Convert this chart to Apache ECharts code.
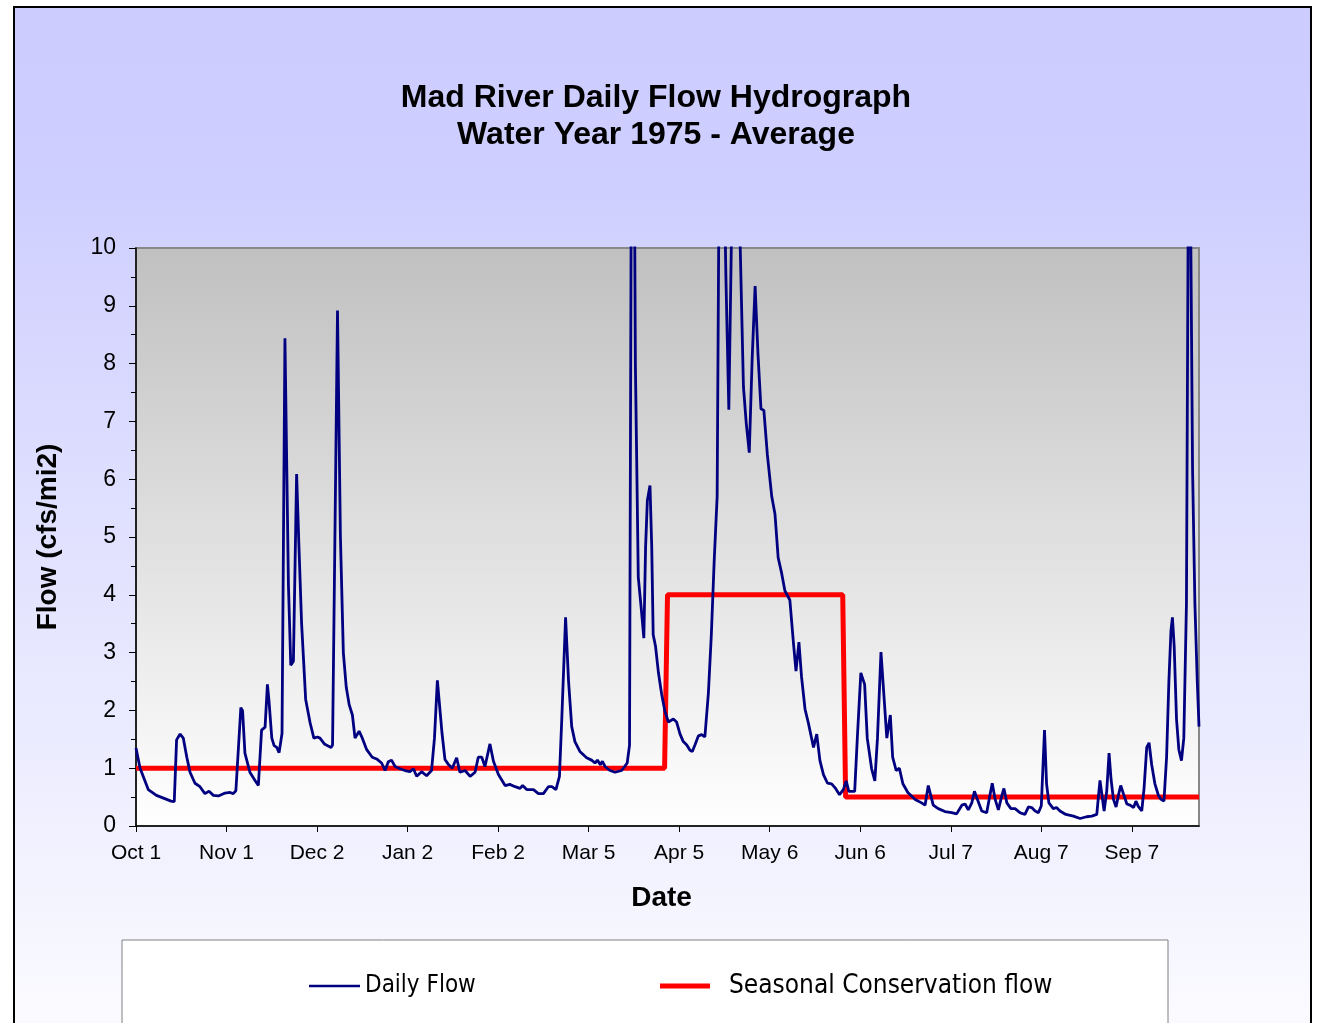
<!DOCTYPE html>
<html>
<head>
<meta charset="utf-8">
<title>Mad River Daily Flow Hydrograph</title>
<script src="https://cdn.jsdelivr.net/npm/echarts@6.0.0/dist/echarts.min.js"></script>
<style>
  html, body { margin: 0; padding: 0; background: #fff; }
  #chart { width: 1322px; height: 1023px; }
</style>
</head>
<body>
<div id="chart"></div>
<script>
// day index from Oct 1 1974 (0) to Sep 30 1975 (364)
const tickDays = [0, 31, 62, 93, 124, 155, 186, 217, 248, 279, 310, 341]
const tickLabels = ['Oct 1', 'Nov 1', 'Dec 2', 'Jan 2', 'Feb 2', 'Mar 5', 'Apr 5', 'May 6', 'Jun 6', 'Jul 7', 'Aug 7', 'Sep 7']

// daily flow (cfs/mi2)
const flowDays = [
  0, 1.4, 4.2, 7, 10.5, 12, 13.1, 13.9, 15.1, 16.2, 17.4, 18.5, 20.2, 21.9, 23.6, 25, 26.5, 28.2, 30.5, 32.2,
  33.3, 34.2, 35.9, 36.5, 37.3, 39, 40.7, 41.9, 43, 44.2, 45, 45.5, 46.5, 47.3, 48.2, 49, 50, 51, 52.2, 53,
  53.9, 55, 55.8, 56.7, 58.1, 59.6, 60.9, 62.1, 63, 64.5, 66.8, 67.3, 69, 70, 71, 72, 73, 74.1, 75, 76.4,
  77.5, 79, 80.9, 82.4, 84.1, 85.3, 86.4, 87.5, 88.7, 90.4, 92.1, 93.8, 95, 96.1, 97.8, 99.5, 101.2, 102.2, 103.2, 104.1,
  104.8, 105.8, 106.9, 108.3, 109.8, 110.9, 112.7, 114.4, 116.1, 117.2, 118.4, 119.5, 121.2, 122.4, 124.1, 126.4, 128, 129.8, 131.5, 132.4,
  133.8, 136.1, 137.8, 139.5, 141.2, 142.4, 143.8, 145, 145.8, 147.1, 148.1, 149.2, 150.3, 152, 154.3, 156, 157.2, 158, 159, 159.7,
  160.6, 162.3, 164, 166.3, 168.2, 169, 170, 171, 172, 173, 173.9, 174.5, 175.1, 176, 176.6, 177.1, 177.9, 178.9, 180, 181.1,
  182.3, 184, 185.1, 186.3, 187.4, 188.6, 189.7, 190.5, 191.4, 192.6, 193.7, 194.8, 196, 197, 198, 199, 200, 201, 202, 203,
  204, 205, 206, 207, 208, 209, 210, 211, 212, 213, 214, 215, 216.2, 217.7, 218.8, 219.9, 221.1, 222.2, 223.9, 225.1,
  226, 227, 227.9, 229.1, 230.2, 232, 233.1, 234.2, 235.4, 236.8, 238.2, 239.4, 240.9, 242.2, 243.2, 244.1, 246.1, 247, 248.2, 248.7,
  249.5, 250.4, 251.9, 253, 253.9, 255.1, 256.2, 257.1, 258.3, 259.1, 260.3, 261.4, 262.6, 264.3, 266.8, 269, 270.2, 271.3, 271.9, 273,
  274.7, 277, 279.3, 281, 282.8, 283.9, 285, 286.2, 287.1, 288.2, 289.6, 291.3, 292.4, 293.2, 294.2, 295.3, 296.5, 297.2, 298.2, 299.6,
  301, 302.7, 304.4, 305.6, 306.7, 307.9, 309, 310, 311.1, 311.8, 312.6, 314.1, 315.2, 316.4, 318.4, 321, 323.3, 325.5, 327.3, 329,
  329.6, 330.1, 330.6, 331.5, 332.4, 333.2, 333.9, 334.7, 335.6, 336.4, 337.2, 338.1, 339.3, 340.4, 341.6, 342.4, 343.2, 344.4, 345.2, 346.1,
  346.9, 347.8, 348.9, 350.1, 351, 352, 352.9, 353.7, 354.4, 354.9, 355.5, 356.3, 357.1, 358, 358.8, 359.7, 360.6, 361.8, 362.6, 363.4,
  364
]
const flowValues = [
  1.35, 1.0, 0.63, 0.53, 0.46, 0.43, 0.42, 1.49, 1.59, 1.52, 1.19, 0.93, 0.74, 0.68, 0.56, 0.6, 0.53, 0.52, 0.57, 0.58,
  0.56, 0.61, 2.05, 1.99, 1.26, 0.93, 0.79, 0.7, 1.66, 1.71, 2.45, 2.19, 1.52, 1.39, 1.36, 1.27, 1.6, 8.44, 4.17, 2.78,
  2.85, 6.09, 4.83, 3.51, 2.19, 1.79, 1.52, 1.54, 1.52, 1.42, 1.36, 1.4, 8.92, 5.0, 3.0, 2.4, 2.1, 1.92, 1.52, 1.64,
  1.52, 1.32, 1.19, 1.16, 1.09, 0.96, 1.11, 1.14, 1.03, 0.99, 0.96, 0.94, 0.99, 0.86, 0.94, 0.87, 0.96, 1.52, 2.52, 2.0,
  1.6, 1.15, 1.07, 1.0, 1.18, 0.93, 0.96, 0.86, 0.93, 1.19, 1.19, 1.03, 1.42, 1.12, 0.89, 0.7, 0.72, 0.68, 0.65, 0.7,
  0.63, 0.63, 0.56, 0.56, 0.68, 0.68, 0.63, 0.86, 1.85, 3.61, 2.52, 1.72, 1.46, 1.29, 1.18, 1.14, 1.09, 1.14, 1.06, 1.12,
  1.03, 0.96, 0.93, 0.96, 1.09, 1.4, 18, 8, 4.3, 3.77, 3.25, 4.83, 5.63, 5.89, 4.83, 3.31, 3.11, 2.65, 2.28, 1.99,
  1.8, 1.85, 1.8, 1.59, 1.46, 1.4, 1.31, 1.29, 1.4, 1.56, 1.58, 1.54, 2.3, 3.3, 4.6, 5.7, 14, 12.5, 9.5, 7.2,
  10.5, 14, 12, 9.8, 7.6, 6.95, 6.46, 8.1, 9.34, 8.15, 7.22, 7.19, 6.42, 5.7, 5.4, 4.64, 4.37, 4.07, 3.91, 3.18,
  2.68, 3.18, 2.58, 2.02, 1.79, 1.36, 1.59, 1.13, 0.89, 0.74, 0.73, 0.66, 0.54, 0.63, 0.78, 0.6, 0.6, 1.52, 2.65, 2.66,
  2.45, 1.52, 0.99, 0.78, 1.52, 3.01, 2.19, 1.52, 1.92, 1.19, 0.96, 1.0, 0.73, 0.58, 0.46, 0.4, 0.36, 0.7, 0.68, 0.36,
  0.3, 0.25, 0.23, 0.21, 0.36, 0.38, 0.28, 0.4, 0.6, 0.45, 0.26, 0.23, 0.53, 0.74, 0.46, 0.28, 0.53, 0.65, 0.4, 0.3,
  0.3, 0.23, 0.2, 0.33, 0.32, 0.26, 0.23, 0.35, 1.66, 0.73, 0.4, 0.3, 0.32, 0.26, 0.2, 0.17, 0.13, 0.16, 0.17, 0.2,
  0.53, 0.79, 0.6, 0.26, 0.6, 1.26, 0.8, 0.46, 0.33, 0.53, 0.7, 0.56, 0.38, 0.36, 0.32, 0.43, 0.34, 0.26, 0.66, 1.36,
  1.44, 1.06, 0.73, 0.53, 0.46, 0.43, 1.19, 2.52, 3.38, 3.61, 3.11, 1.85, 1.32, 1.13, 1.52, 3.84, 14, 6.16, 3.84, 2.52,
  1.72
]

// seasonal conservation flow steps
const seasonDays = [0, 181, 182, 242, 243, 364]
const seasonValues = [1, 1, 4, 4, 0.5, 0.5]

const chart = echarts.init(document.getElementById('chart'))

const font = "'Liberation Sans', Arial, sans-serif"
const narrow = "'Liberation Sans Narrow', 'DejaVu Sans Condensed', sans-serif"

chart.setOption({
  backgroundColor: '#ffffff',
  animation: false,
  graphic: [
    {
      type: 'rect', z: -10, silent: true,
      shape: { x: 14, y: 7, width: 1297, height: 1100 },
      style: {
        fill: { type: 'linear', x: 0, y: 0, x2: 0, y2: 1, colorStops: [
          { offset: 0, color: '#ccccff' }, { offset: 0.15, color: '#ceceff' }, { offset: 1, color: '#ffffff' }
        ] },
        stroke: '#000', lineWidth: 2,
      },
    },
    {
      type: 'rect', z: -5, silent: true,
      shape: { x: 122, y: 940, width: 1046, height: 200 },
      style: { fill: '#ffffff', stroke: '#808080', lineWidth: 1 },
    },
  ],
  title: {
    text: 'Mad River Daily Flow Hydrograph\nWater Year 1975 - Average',
    left: 651, top: 75, textAlign: 'center',
    textStyle: { fontFamily: font, fontSize: 32, fontWeight: 'bold', color: '#000', lineHeight: 37 },
  },
  legend: [
    {
      data: ['Daily Flow'], left: 309, top: 974, padding: 0,
      icon: 'rect', itemWidth: 51, itemHeight: 2.5,
      textStyle: { fontFamily: narrow, fontSize: 24, color: '#000' },
    },
    {
      data: ['Seasonal Conservation flow'], left: 660, top: 973, padding: 0,
      icon: 'rect', itemWidth: 50, itemHeight: 5,
      textStyle: { fontFamily: narrow, fontSize: 26, color: '#000', padding: [10, 0, 0, 14] },
    },
  ],
  grid: {
    left: 136, top: 248, right: 123, bottom: 197,
    show: true,
    backgroundColor: { type: 'linear', x: 0, y: 0, x2: 0, y2: 1, colorStops: [
      { offset: 0, color: '#c0c0c0' }, { offset: 1, color: '#ffffff' }
    ] },
    borderColor: '#888', borderWidth: 2,
  },
  xAxis: {
    type: 'value', min: 0, max: 364, interval: 31,
    name: 'Date', nameLocation: 'middle', nameGap: 58,
    nameTextStyle: { fontFamily: font, fontSize: 28, fontWeight: 'bold', color: '#000', padding: [0, 12, 0, 0] },
    axisLine: { lineStyle: { color: '#000', width: 1.5 } },
    axisTick: { customValues: tickDays, length: 6, lineStyle: { color: '#000' } },
    axisLabel: {
      customValues: tickDays, margin: 17,
      fontFamily: font, fontSize: 21, color: '#000',
      formatter: v => tickLabels[tickDays.indexOf(v)] || '',
    },
    splitLine: { show: false },
  },
  yAxis: {
    type: 'value', min: 0, max: 10, interval: 1,
    name: 'Flow (cfs/mi2)', nameLocation: 'middle', nameGap: 74,
    nameTextStyle: { fontFamily: font, fontSize: 28, fontWeight: 'bold', color: '#000' },
    axisLine: { show: true, lineStyle: { color: '#000', width: 1.5 } },
    axisTick: { show: true, length: 7, lineStyle: { color: '#000' } },
    minorTick: { show: true, splitNumber: 2, length: 5, lineStyle: { color: '#000' } },
    axisLabel: { margin: 20, fontFamily: font, fontSize: 23, color: '#000' },
    splitLine: { show: false },
  },
  series: [
    {
      name: 'Seasonal Conservation flow', type: 'line', z: 2,
      data: seasonDays.map((d, i) => [d, seasonValues[i]]),
      showSymbol: false, color: '#ff0000',
      lineStyle: { color: '#ff0000', width: 5 },
    },
    {
      name: 'Daily Flow', type: 'line', z: 3,
      data: flowDays.map((d, i) => [d, flowValues[i]]),
      showSymbol: false, color: '#000080',
      lineStyle: { color: '#000080', width: 2.8 },
    },
  ],
})
</script>
</body>
</html>
